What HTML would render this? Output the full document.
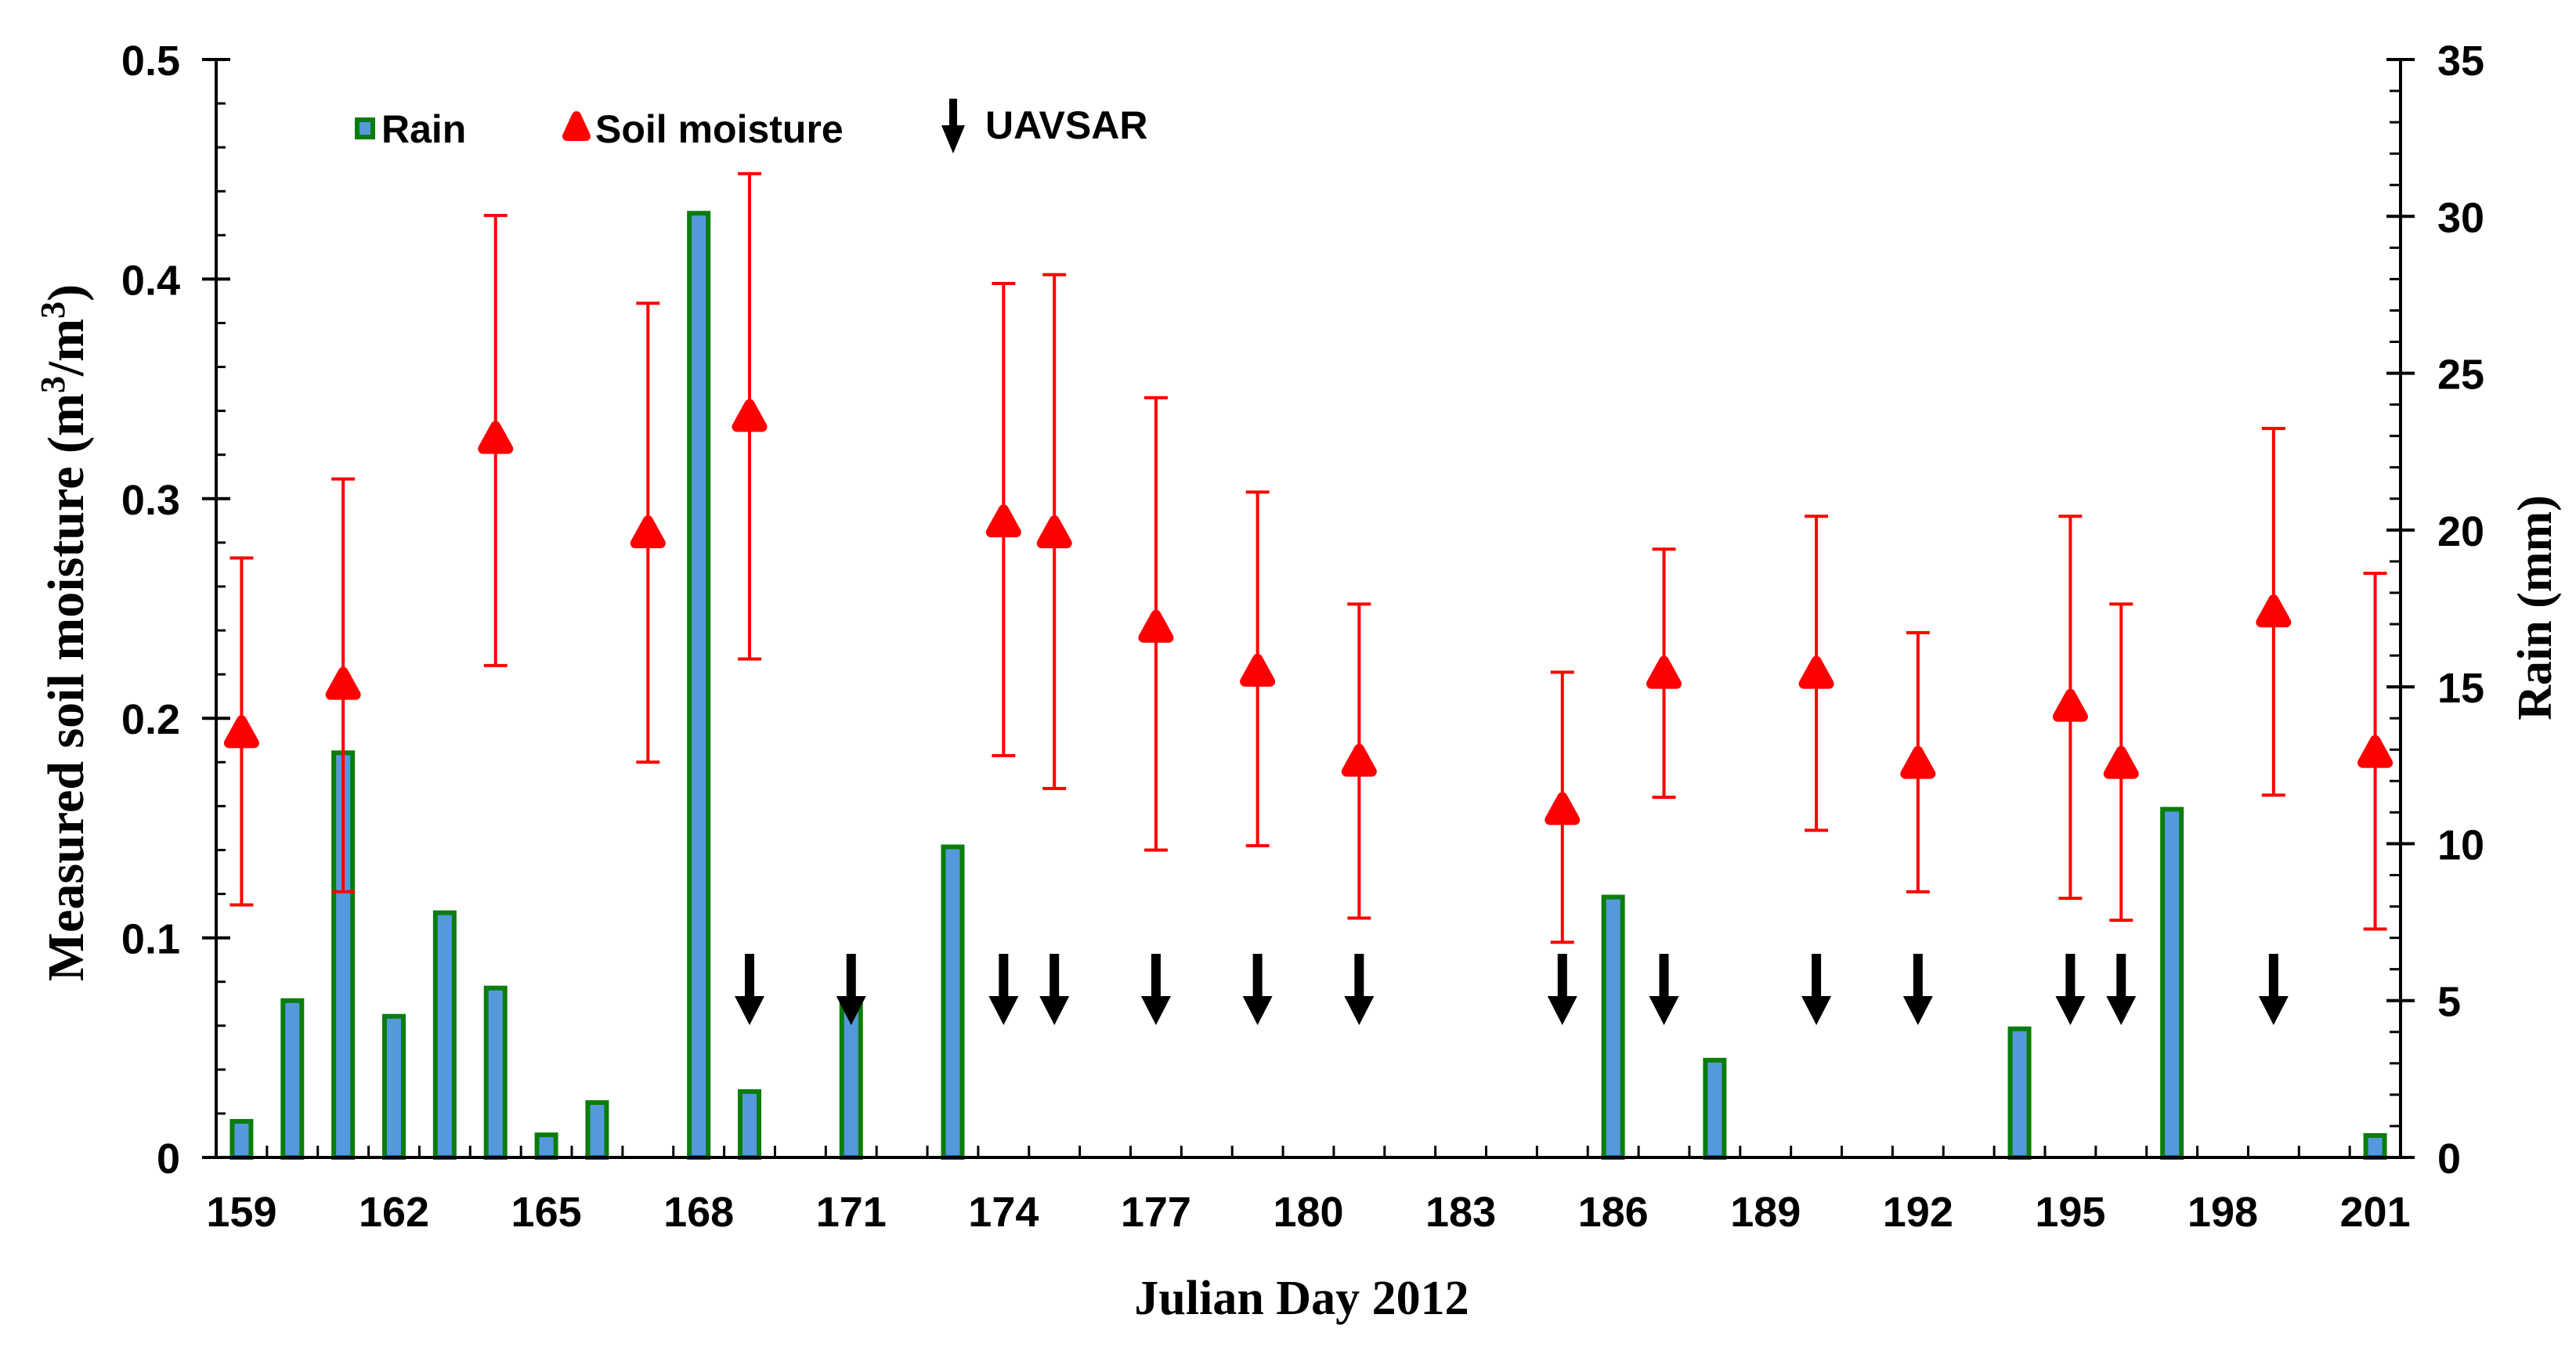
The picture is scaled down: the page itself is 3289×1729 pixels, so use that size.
<!DOCTYPE html>
<html><head><meta charset="utf-8"><style>
html,body{margin:0;padding:0;background:#fff;}
svg{display:block;}
</style></head><body>
<svg id="chart" xmlns="http://www.w3.org/2000/svg" width="3289" height="1729" viewBox="0 0 3289 1729">
<rect width="3289" height="1729" fill="#fff"/>
<g id="bars"></g>
<g id="errs"></g>
<g id="arrows"></g>
<g id="axes"></g>
<text transform="translate(106,808) rotate(-90)" text-anchor="middle" font-family="Liberation Serif, serif" font-weight="bold" font-size="66" fill="#000">Measured soil moisture (m<tspan dy="-24" font-size="44">3</tspan><tspan dy="24">/m</tspan><tspan dy="-24" font-size="44">3</tspan><tspan dy="24">)</tspan></text>
<text transform="translate(3257,776) rotate(-90)" text-anchor="middle" font-family="Liberation Serif, serif" font-weight="bold" font-size="62" fill="#000">Rain (mm)</text>
<text x="1662" y="1678" text-anchor="middle" font-family="Liberation Serif, serif" font-weight="bold" font-size="62" fill="#000">Julian Day 2012</text>
<g font-family="Liberation Sans, sans-serif" font-weight="bold" font-size="50" fill="#000">
  <rect x="456" y="153" width="20" height="22" fill="#5599dd" stroke="#0b7d0b" stroke-width="6"/>
  <text x="487" y="182">Rain</text>
  <polygon points="736,148 724,174 748,174" fill="#ff0000" stroke="#ff0000" stroke-width="12" stroke-linejoin="round"/>
  <text x="760" y="182">Soil moisture</text>
  <rect x="1212" y="126" width="10" height="36" fill="#000"/>
  <polygon points="1202,160 1232,160 1217,196" fill="#000"/>
  <text x="1258" y="177">UAVSAR</text>
</g>
</svg>
<script>
const rainDays = [159,160,161,162,163,164,165,166,168,169,171,173,186,188,194,197,201];
const rainValues = [1.15,5.0,12.9,4.5,7.8,5.4,0.72,1.75,30.1,2.1,5.0,9.9,8.3,3.1,4.1,11.1,0.7];
const smDays = [159,161,164,167,169,174,175,177,179,181,185,187,190,192,195,196,199,201];
const smMean = [0.193,0.215,0.327,0.284,0.337,0.289,0.284,0.241,0.221,0.180,0.158,0.220,0.220,0.179,0.205,0.179,0.248,0.184];
const smHigh = [0.273,0.309,0.429,0.389,0.448,0.398,0.402,0.346,0.303,0.252,0.221,0.277,0.292,0.239,0.292,0.252,0.332,0.266];
const smLow = [0.115,0.121,0.224,0.180,0.227,0.183,0.168,0.140,0.142,0.109,0.098,0.164,0.149,0.121,0.118,0.108,0.165,0.104];
const uavsarDays = [169,171,174,175,177,179,181,185,187,190,192,195,196,199];
const xTickLabels = [159,162,165,168,171,174,177,180,183,186,189,192,195,198,201];
const yTickLabels = ["0","0.1","0.2","0.3","0.4","0.5"];
const y2TickLabels = ["0","5","10","15","20","25","30","35"];

const NS="http://www.w3.org/2000/svg";
const L=276,R=3065,T=76,B=1478;
const dayMin=158.5,dayMax=201.5;
const xs=d=>L+(d-dayMin)/(dayMax-dayMin)*(R-L);
const ys=v=>B-v/0.5*(B-T);
const yr=v=>B-v/35*(B-T);
function mk(tag,attrs,parent){const e=document.createElementNS(NS,tag);for(const k in attrs)e.setAttribute(k,attrs[k]);parent.appendChild(e);return e;}
const gB=document.getElementById('bars'),gE=document.getElementById('errs'),gA=document.getElementById('arrows'),gX=document.getElementById('axes');

rainDays.forEach((d,i)=>{
  const x=xs(d),y=yr(rainValues[i]);
  const r=mk('rect',{x:x-12,y:y,width:24,height:B-y,fill:'#5599dd',stroke:'#0b7d0b','stroke-width':6},gB);
  
  
});
smDays.forEach((d,i)=>{
  const x=xs(d);
  const g=mk('g',{},gE);
  
  
  mk('line',{x1:x,x2:x,y1:ys(smHigh[i]),y2:ys(smLow[i]),stroke:'#ff0000','stroke-width':4},g);
  mk('line',{x1:x-15,x2:x+15,y1:ys(smHigh[i]),y2:ys(smHigh[i]),stroke:'#ff0000','stroke-width':4},g);
  mk('line',{x1:x-15,x2:x+15,y1:ys(smLow[i]),y2:ys(smLow[i]),stroke:'#ff0000','stroke-width':4},g);
  const y=ys(smMean[i]);
  mk('polygon',{points:`${x},${y-17} ${x-16},${y+12} ${x+16},${y+12}`,fill:'#ff0000',stroke:'#ff0000','stroke-width':13,'stroke-linejoin':'round'},g);
});
uavsarDays.forEach(d=>{
  const x=xs(d);
  const g=mk('g',{},gA);
  
  
  mk('rect',{x:x-6,y:1218,width:12,height:56,fill:'#000'},g);
  mk('polygon',{points:`${x-19},1272 ${x+19},1272 ${x},1309`,fill:'#000'},g);
});
let a=mk('line',{x1:L,x2:L,y1:T,y2:B,stroke:'#000','stroke-width':4},gX);

a=mk('line',{x1:R,x2:R,y1:T,y2:B,stroke:'#000','stroke-width':4},gX);

a=mk('line',{x1:L-18,x2:R+18,y1:B,y2:B,stroke:'#000','stroke-width':4},gX);

for(let k=0;k<=25;k++){const v=k*0.02,y=ys(v);
  if(k%5===0) mk('line',{x1:L-18,x2:L+18,y1:y,y2:y,stroke:'#000','stroke-width':4},gX);
  else mk('line',{x1:L,x2:L+12,y1:y,y2:y,stroke:'#000','stroke-width':3},gX);}
yTickLabels.forEach((s,i)=>{const t=mk('text',{x:230,y:ys(i*0.1)+20,'text-anchor':'end','font-family':'Liberation Sans, sans-serif','font-weight':'bold','font-size':54},gX);t.textContent=s;
  });
for(let k=0;k<=35;k++){const y=yr(k);
  if(k%5===0) mk('line',{x1:R-18,x2:R+18,y1:y,y2:y,stroke:'#000','stroke-width':4},gX);
  else mk('line',{x1:R-14,x2:R,y1:y,y2:y,stroke:'#000','stroke-width':3},gX);}
y2TickLabels.forEach((s,i)=>{const t=mk('text',{x:3112,y:yr(i*5)+20,'text-anchor':'start','font-family':'Liberation Sans, sans-serif','font-weight':'bold','font-size':54},gX);t.textContent=s;
  });
for(let d=159.5;d<201.5;d+=1){const x=xs(d);mk('line',{x1:x,x2:x,y1:B,y2:B-15,stroke:'#000','stroke-width':3},gX);}
xTickLabels.forEach(d=>{const t=mk('text',{x:xs(d),y:1566,'text-anchor':'middle','font-family':'Liberation Sans, sans-serif','font-weight':'bold','font-size':54},gX);t.textContent=d;
  });
</script>
</body></html>
